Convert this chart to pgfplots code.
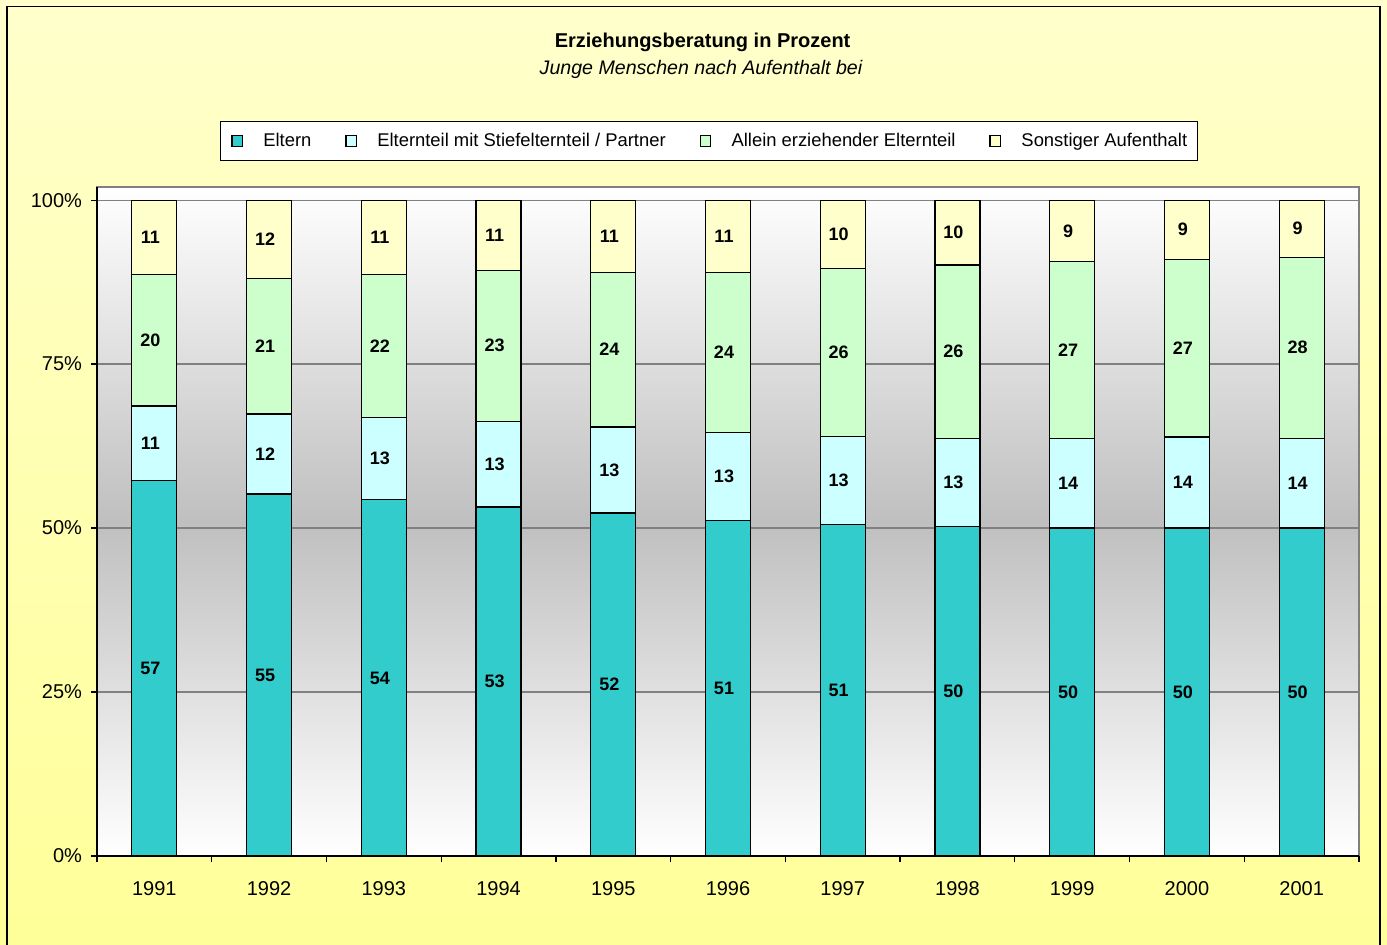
\documentclass[border=0pt]{standalone}
\usepackage{pgfplots}
\pgfplotsset{compat=1.18}
\usepackage{pgfplotstable}
\usepackage{fontspec}
\setmainfont{Liberation Sans}

\definecolor{eltern}{HTML}{33CCCC}
\definecolor{stief}{HTML}{CCFFFF}
\definecolor{allein}{HTML}{CCFFCC}
\definecolor{sonst}{HTML}{FFFFCC}
\definecolor{bgtop}{HTML}{FFFFCC}
\definecolor{bgbot}{HTML}{FFFF99}
\definecolor{gridc}{HTML}{808080}

% shares in percent, 1991..2001 at x = 0..10
\pgfplotstableread{
x  eltern stief allein sonst
0  57.2   11.4  20.0   11.4
1  55.2   12.2  20.7   11.9
2  54.3   12.6  21.7   11.4
3  53.2   13.1  23.0   10.7
4  52.3   13.1  23.6   11.0
5  51.2   13.4  24.4   11.0
6  50.6   13.4  25.6   10.4
7  50.3   13.4  26.4    9.9
8  50.0   13.7  26.9    9.4
9  50.0   13.9  27.1    9.0
10 50.0   13.7  27.6    8.7
}\data

\pgfplotsset{
  geom/.style={at={(48.5pt,-428pt)}, anchor=south west,
    scale only axis, width=631pt, height=334.5pt,
    xmin=-0.5, xmax=10.5, ymin=0, ymax=102},
  sqleg/.style={legend image code/.code={
    \path (0pt,0pt);
    \draw[##1,draw=black,line width=0.6pt] (2.2pt,-2.6pt) rectangle (7.4pt,2.6pt);}},
}

\begin{document}
\begin{tikzpicture}
\useasboundingbox (0pt,0pt) rectangle (693.5pt,-472pt);
\shade[top color=bgtop, bottom color=bgbot] (0pt,0pt) rectangle (693.5pt,-472pt);
\draw[line width=0.8pt] (3.5pt,-473pt) -- (3.5pt,-3.2pt) -- (690pt,-3.2pt) -- (690pt,-473pt);
\node[font=\fontsize{10}{12}\selectfont\bfseries] at (351.3pt,-21pt) {Erziehungsberatung in Prozent};
\node[font=\fontsize{9.8}{12}\selectfont\itshape] at (350.5pt,-34.5pt) {Junge Menschen nach Aufenthalt bei};

\begin{axis}[
  geom,
  ybar stacked, bar width=22.5pt,
  xtick={-0.5,0.5,...,10.5}, x tick label as interval,
  xticklabels={1991,1992,1993,1994,1995,1996,1997,1998,1999,2000,2001},
  ytick={0,25,50,75,100},
  yticklabels={0\%,25\%,50\%,75\%,100\%},
  ymajorgrids, grid style={gridc, line width=0.6pt},
  axis x line*=bottom, axis y line*=left,
  axis line style={black, line width=0.6pt},
  tick align=outside, major tick length=3pt,
  tick style={black, line width=0.6pt},
  axis background/.style={shade, top color=white, bottom color=white,
    middle color=black!25, draw=gridc, line width=0.6pt},
  tick label style={font=\fontsize{10}{12}\selectfont},
  xticklabel style={yshift=-6pt},
  yticklabel style={xshift=-1pt},
  /pgf/number format/assume math mode=true,
  legend style={at={(0.485,1.0688)}, anchor=center, legend columns=4,
    draw=black, fill=white, line width=0.6pt,
    font=\fontsize{9.2}{11}\selectfont, inner xsep=3.3pt, inner ysep=3.5pt,
    /tikz/every odd column/.append style={column sep=8.2pt},
    /tikz/every even column/.append style={column sep=12.75pt}},
]
\addplot[fill=eltern, draw=black, line width=0.6pt, sqleg] table[x=x, y=eltern] {\data};
\addplot[fill=stief,  draw=black, line width=0.6pt, sqleg] table[x=x, y=stief]  {\data};
\addplot[fill=allein, draw=black, line width=0.6pt, sqleg] table[x=x, y=allein] {\data};
\addplot[fill=sonst,  draw=black, line width=0.6pt, sqleg] table[x=x, y=sonst]  {\data};
\legend{Eltern, Elternteil mit Stiefelternteil / Partner, Allein erziehender Elternteil, Sonstiger Aufenthalt}
\end{axis}

% value labels, centred in each segment
\begin{axis}[
  geom, hide axis,
  nodes near coords, point meta=explicit,
  /pgf/number format/assume math mode=true,
  nodes near coords style={font=\fontsize{9}{11}\selectfont\bfseries, anchor=center,
    xshift=-2pt, /pgf/number format/fixed, /pgf/number format/precision=0},
]
\addplot[draw=none] table[x=x, y expr=\thisrow{eltern}/2, meta=eltern] {\data};
\addplot[draw=none] table[x=x, y expr=\thisrow{eltern}+\thisrow{stief}/2, meta=stief] {\data};
\addplot[draw=none] table[x=x, y expr=\thisrow{eltern}+\thisrow{stief}+\thisrow{allein}/2, meta=allein] {\data};
\addplot[draw=none] table[x=x, y expr=\thisrow{eltern}+\thisrow{stief}+\thisrow{allein}+\thisrow{sonst}/2, meta=sonst] {\data};
\end{axis}
\end{tikzpicture}
\end{document}
